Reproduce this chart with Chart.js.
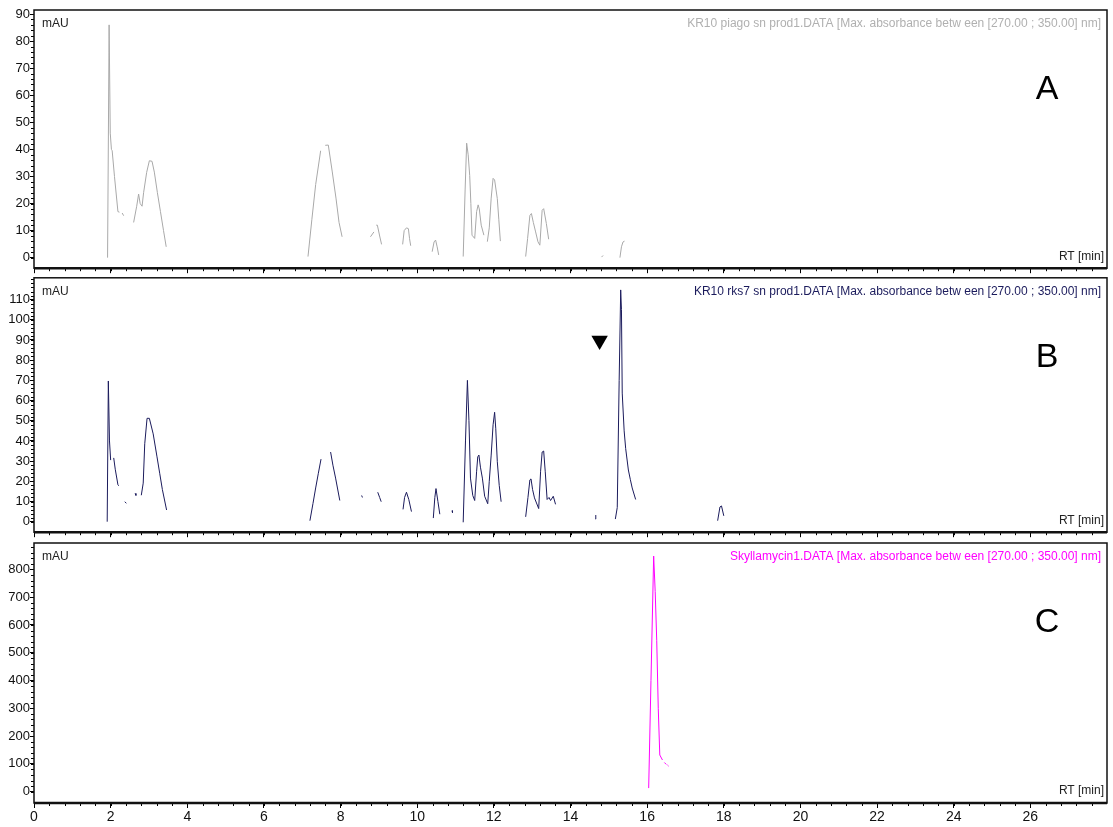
<!DOCTYPE html>
<html><head><meta charset="utf-8">
<script src="https://cdn.jsdelivr.net/npm/chart.js@4.4.1/dist/chart.umd.min.js"></script>
<style>
html,body{margin:0;padding:0;background:#fff;width:1113px;height:827px;overflow:hidden;}
canvas{position:absolute;left:0;}
</style></head><body>
<canvas id="cA" width="1113" height="276" style="top:0px"></canvas>
<canvas id="cB" width="1113" height="270" style="top:270px"></canvas>
<canvas id="cC" width="1113" height="292" style="top:535px"></canvas>
<script>
// ---------- DATA ----------
const rtTicks = [0,2,4,6,8,10,12,14,16,18,20,22,24,26];
const aTicks = [0,10,20,30,40,50,60,70,80,90];
const bTicks = [0,10,20,30,40,50,60,70,80,90,100,110];
const cTicks = [0,100,200,300,400,500,600,700,800];

// Panel A: KR10 piago sn prod1 (null = gap in trace)
const aTime = [1.92,1.96,1.99,2.02,2.04,2.10,2.19,2.23,2.26,
  2.30,2.34,2.45,
  2.60,2.68,2.73,2.77,2.82,2.86,2.94,3.01,3.08,3.14,3.22,3.30,3.38,3.45,5.0,
  7.15,7.25,7.35,7.48,7.54,
  7.60,7.68,7.78,7.88,7.96,8.04,8.4,
  8.78,8.87,8.9,
  8.93,8.96,9.02,9.07,9.3,
  9.62,9.66,9.72,9.77,9.80,9.83,10.1,
  10.39,10.44,10.48,10.52,10.56,10.9,
  11.20,11.25,11.29,11.33,11.37,11.40,11.43,11.50,11.55,11.59,11.62,11.67,11.74,11.78,
  11.83,11.88,11.93,11.98,12.02,12.09,12.13,12.17,12.5,
  12.83,12.88,12.94,12.98,13.03,13.09,13.15,13.20,13.26,13.30,13.37,13.43,14.0,
  14.81,14.85,15.0,
  15.29,15.33,15.37,15.41];
const aAbs = [0,86,46,40,39.5,30,17,16.8,null,
  16.5,15.5,null,
  13,19,23.5,20,19,24,31.5,35.8,35.6,31.6,24,17,10,4,null,
  0.4,14,27,39.5,null,
  41.5,41.6,32,22,13,7.7,null,
  7.7,9.5,null,
  12,12,8,4.9,null,
  4.9,10,11,10.7,7,4.4,null,
  2.2,5.8,6.5,4,1,null,
  0.4,25,42.3,38,30.3,20,8.3,7.1,17,19.5,18,12,8.3,null,
  5.9,11,22,29.3,28.7,21.8,14,6.1,null,
  0.4,7,15.6,16.3,13,9.5,5.9,4.6,17.5,18.1,12.6,6.8,null,
  0.2,0.8,null,
  0,4,5.8,6.1];

// Panel B: KR10 rks7 sn prod1
const bTime = [1.91,1.94,1.97,2.00,2.04,
  2.08,2.12,2.19,2.21,2.3,
  2.37,2.41,2.5,
  2.64,2.66,2.72,
  2.80,2.85,2.89,2.95,3.01,3.11,3.21,3.28,3.35,3.46,5.0,
  7.20,7.28,7.35,7.42,7.49,7.6,
  7.74,7.80,7.87,7.98,8.3,
  8.55,8.57,8.8,
  8.97,9.02,9.06,9.3,
  9.63,9.67,9.72,9.78,9.85,10.1,
  10.42,10.46,10.49,10.54,10.59,10.8,
  10.91,10.92,11.0,
  11.20,11.26,11.31,11.35,11.39,11.45,11.50,11.55,11.58,11.61,11.65,11.70,11.76,11.84,11.88,11.93,11.98,12.02,12.05,12.09,12.14,12.19,12.5,
  12.83,12.89,12.94,12.97,13.01,13.06,13.17,13.22,13.26,13.30,13.34,13.39,13.44,13.48,13.55,13.61,14.0,
  14.65,14.66,14.9,
  15.17,15.22,15.27,15.31,15.33,15.35,15.40,15.44,15.51,15.56,15.61,15.70,16.5,
  17.84,17.90,17.94,18.00];
const bAbs = [0,69.7,40,30.5,null,
  31.6,26,18.3,17.8,null,
  9.9,9.1,null,
  14,13,null,
  13.1,19.1,38.6,51.2,51.2,43.5,32.1,24,15.9,5.8,null,
  0.5,9,16.7,24,31,null,
  34.5,28,21.6,10.5,null,
  13,12,null,
  14.6,12,9.9,null,
  6.1,12,14.6,11,5,null,
  1.8,12,16.4,10,3.7,null,
  5.5,4.5,null,
  -0.3,40,70,50,21.6,13,10.5,25,32.1,33,27,21.6,12.6,8.9,20,33,48,54.2,46,29.7,18,9.9,null,
  2.4,12,20.7,21.2,16,11.8,6.5,25,34.5,35,25,11,12,10.5,12.6,8.6,null,
  1.3,3.3,null,
  1.3,7,70,114.8,105,63.7,45,36.2,25.6,21,16.7,11,null,
  0.5,7.3,7.8,2.9];
const markerTime = [14.76];
const markerAbs = [89.8];

// Panel C: Skyllamycin standard
const cTime = [16.04,16.10,16.17,16.21,16.25,16.29,16.33,16.40,16.42,16.45,16.50,16.515,16.53,16.56];
const cAbs  = [13,400,848,720,545,300,132,114,null,105,98,null,96,92];

const labelA = 'KR10 piago sn prod1.DATA [Max. absorbance betw een [270.00 ; 350.00] nm]';
const labelB = 'KR10 rks7 sn prod1.DATA [Max. absorbance betw een [270.00 ; 350.00] nm]';
const labelC = 'Skyllamycin1.DATA [Max. absorbance betw een [270.00 ; 350.00] nm]';

// ---------- RENDER ----------
const FONT = '"Liberation Sans", Arial, sans-serif';
function pts(t, v){ return t.map((x,i)=>({x:x, y:v[i]})); }

const framePlugin = {
  id:'frame',
  afterDraw(chart, args, o){
    const ctx = chart.ctx, ca = chart.chartArea, xs = chart.scales.x, ys = chart.scales.y;
    ctx.save();
    ctx.strokeStyle = '#000'; ctx.lineWidth = 1;
    // minor x ticks
    for(let i=0;i<=70;i++){
      const px = Math.round(xs.getPixelForValue(i*0.4))+0.5;
      if(px>ca.right) break;
      ctx.beginPath(); ctx.moveTo(px, ca.bottom); ctx.lineTo(px, ca.bottom+3); ctx.stroke();
    }
    // minor y ticks
    for(let v=0; v<=ys.max; v+=o.minorY){
      const py = Math.round(ys.getPixelForValue(v))+0.5;
      ctx.beginPath(); ctx.moveTo(ca.left-3, py); ctx.lineTo(ca.left, py); ctx.stroke();
    }
    // frame
    ctx.lineWidth = 1.5; ctx.strokeStyle = '#111';
    ctx.strokeRect(ca.left, ca.top, ca.right-ca.left, ca.bottom-ca.top);
    ctx.lineWidth = 2.5;
    ctx.beginPath(); ctx.moveTo(ca.left, ca.bottom); ctx.lineTo(ca.right, ca.bottom); ctx.stroke();
    // texts
    ctx.fillStyle = '#222'; ctx.font = '12px '+FONT; ctx.textBaseline='middle';
    ctx.textAlign='left'; ctx.fillText('mAU', ca.left+8, ca.top+14);
    ctx.textAlign='right'; ctx.fillText('RT [min]', ca.right-3, ca.bottom-12);
    ctx.fillStyle = o.legendColor; ctx.font = '12px '+FONT;
    ctx.fillText(o.legend, ca.right-6, ca.top+14);
    ctx.fillStyle = '#000'; ctx.font = '34px '+FONT; ctx.textAlign='center';
    ctx.fillText(o.letter, ca.right-60, ca.top+80);
    ctx.restore();
  }
};

function makeChart(id, datasets, yMin, yMax, yTicks, minorY, padTop, xHeight, showX, legend, legendColor, letter){
  return new Chart(document.getElementById(id), {
    type:'line',
    data:{datasets:datasets},
    plugins:[framePlugin],
    options:{
      responsive:false, animation:false, devicePixelRatio:1,
      layout:{autoPadding:false, padding:{top:padTop, right:6, left:0, bottom:0}},
      plugins:{legend:{display:false}, tooltip:{enabled:false},
        frame:{minorY:minorY, legend:legend, legendColor:legendColor, letter:letter}},
      elements:{point:{radius:0}, line:{tension:0}},
      scales:{
        x:{type:'linear', min:0, max:28,
          afterBuildTicks:a=>{a.ticks = rtTicks.map(v=>({value:v}));},
          afterFit:a=>{a.height = xHeight;},
          border:{display:false},
          grid:{drawOnChartArea:false, drawTicks:true, tickLength:5, color:'#000', lineWidth:1},
          ticks:{display:showX, color:'#111', padding:1, maxRotation:0, autoSkip:false,
            font:{family:FONT, size:14}}
        },
        y:{type:'linear', min:yMin, max:yMax,
          afterBuildTicks:a=>{a.ticks = yTicks.map(v=>({value:v}));},
          afterFit:a=>{a.width = 34;},
          border:{display:false},
          grid:{drawOnChartArea:false, drawTicks:true, tickLength:4, color:'#000', lineWidth:1},
          ticks:{color:'#111', padding:0, autoSkip:false, font:{family:FONT, size:13}}
        }
      }
    }
  });
}

const lineDs = (t,v,c)=>({data:pts(t,v), borderColor:c, borderWidth:1, spanGaps:false, pointRadius:0, fill:false});

makeChart('cA', [lineDs(aTime,aAbs,'#a9a9a9')], -3.9, 91.5, aTicks, 2, 10, 6, false, labelA, '#b0b0b0', 'A');
makeChart('cB', [lineDs(bTime,bAbs,'#1b1b5c'),
  {type:'scatter', data:pts(markerTime, markerAbs), pointStyle:'triangle', rotation:180, pointRadius:9.5,
   backgroundColor:'#000', borderColor:'#000', borderWidth:0, showLine:false}],
  -5.2, 120.8, bTicks, 2, 6, 5, false, labelB, '#1b1b5c', 'B');
makeChart('cC', [lineDs(cTime,cAbs,'#ff00ff')], -40.7, 895, cTicks, 20, 8, 24, true, labelC, '#ff00ff', 'C');
</script>
</body></html>
